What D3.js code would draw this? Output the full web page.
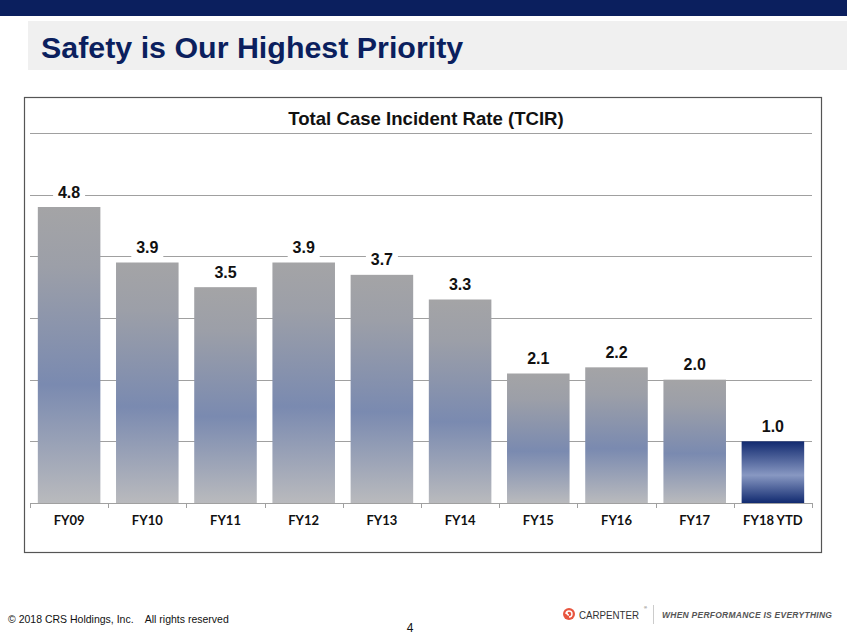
<!DOCTYPE html>
<html>
<head>
<meta charset="utf-8">
<script src="https://cdn.jsdelivr.net/npm/d3@7"></script>
<style>
  html, body { margin: 0; padding: 0; background: #fff; }
  svg { display: block; }
</style>
</head>
<body>
<svg id="chart" width="847" height="635"></svg>
<script>
// ---- data ----
const categories = ["FY09", "FY10", "FY11", "FY12", "FY13", "FY14", "FY15", "FY16", "FY17", "FY18 YTD"];
const values = [4.8, 3.9, 3.5, 3.9, 3.7, 3.3, 2.1, 2.2, 2.0, 1.0];
const valueLabels = ["4.8", "3.9", "3.5", "3.9", "3.7", "3.3", "2.1", "2.2", "2.0", "1.0"];
const gridTicks = [1, 2, 3, 4, 5, 6];
const highlight = "FY18 YTD";
const pageTitle = "Safety is Our Highest Priority";
const chartTitle = "Total Case Incident Rate (TCIR)";
const footerText = "© 2018 CRS Holdings, Inc.    All rights reserved";
const pageNumber = "4";

const svg = d3.select("#chart");
const navy = "#0b1f5e";

// gradients
const defs = svg.append("defs");
const g1 = defs.append("linearGradient").attr("id", "grayBlue").attr("x1", 0).attr("y1", 0).attr("x2", 0).attr("y2", 1);
[[0, "#a4a4a6"], [0.2, "#9c9fa8"], [0.6, "#7a8ab0"], [1, "#b9babd"]].forEach(([o, c]) =>
  g1.append("stop").attr("offset", o).attr("stop-color", c));
const g2 = defs.append("linearGradient").attr("id", "navyBar").attr("x1", 0).attr("y1", 0).attr("x2", 0).attr("y2", 1);
[[0, "#112a70"], [0.55, "#8898c2"], [1, "#112a70"]].forEach(([o, c]) =>
  g2.append("stop").attr("offset", o).attr("stop-color", c));

// header bar
svg.append("rect").attr("x", 0).attr("y", 0).attr("width", 847).attr("height", 16).attr("fill", navy);
// title band
svg.append("rect").attr("x", 28).attr("y", 21).attr("width", 819).attr("height", 49).attr("fill", "#f0f0f0");
svg.append("text").attr("x", 41).attr("y", 58)
  .attr("font-family", "Liberation Sans, Arial, sans-serif").attr("font-weight", "bold")
  .attr("font-size", 30.4).attr("fill", navy).text(pageTitle);

// chart box
svg.append("rect").attr("x", 24.5).attr("y", 97.5).attr("width", 797).attr("height", 455)
  .attr("fill", "#fff").attr("stroke", "#555").attr("stroke-width", 1.2);

svg.append("text").attr("x", 426).attr("y", 125).attr("text-anchor", "middle")
  .attr("font-family", "Liberation Sans, Arial, sans-serif").attr("font-weight", "bold")
  .attr("font-size", 18.6).attr("fill", "#111").text(chartTitle);

// scales
const x = d3.scaleBand().domain(categories).range([30, 812]).paddingInner(0.2).paddingOuter(0.1);
const y = d3.scaleLinear().domain([0, 6]).range([503, 133]);

// gridlines
svg.append("g").selectAll("line").data(gridTicks).join("line")
  .attr("x1", 30).attr("x2", 812)
  .attr("y1", d => Math.round(y(d)) + 0.5).attr("y2", d => Math.round(y(d)) + 0.5)
  .attr("stroke", "#a0a0a0").attr("stroke-width", 1.2);

// bars
svg.append("g").selectAll("rect").data(categories).join("rect")
  .attr("x", d => x(d)).attr("width", x.bandwidth())
  .attr("y", (d, i) => y(values[i])).attr("height", (d, i) => y(0) - y(values[i]))
  .attr("fill", d => d === highlight ? "url(#navyBar)" : "url(#grayBlue)");

// x axis
const xAxis = d3.axisBottom(x).tickSize(0).tickPadding(0);
const ax = svg.append("g").attr("transform", "translate(0,503)").call(xAxis);
ax.select(".domain").remove();
ax.append("line").attr("x1", 30).attr("x2", 812).attr("y1", 0.5).attr("y2", 0.5).attr("stroke", "#a0a0a0").attr("stroke-width", 1.2);
const bounds = categories.map(c => x(c) - x.step() * x.paddingInner() / 2).concat([812]);
ax.selectAll(".bnd").data(bounds).join("line").attr("class", "bnd")
  .attr("x1", d => Math.round(d) + 0.5).attr("x2", d => Math.round(d) + 0.5)
  .attr("y1", 0).attr("y2", 5).attr("stroke", "#a0a0a0");
ax.selectAll(".tick text")
  .attr("y", 22).attr("dy", 0)
  .attr("font-family", "Lato, 'Open Sans', sans-serif").attr("font-weight", "bold")
  .attr("font-size", 13).attr("fill", "#111");

// value labels with white background
const lbl = svg.append("g").selectAll("g").data(categories).join("g")
  .attr("transform", (d, i) => `translate(${x(d) + x.bandwidth() / 2},${y(values[i]) - 9.5})`);
lbl.append("rect").attr("x", -16).attr("y", -17).attr("width", 32).attr("height", 23).attr("fill", "#fff");
lbl.append("text").attr("text-anchor", "middle")
  .attr("font-family", "Liberation Sans, Arial, sans-serif").attr("font-weight", "bold")
  .attr("font-size", 16).attr("fill", "#111").text((d, i) => valueLabels[i]);

// footer
svg.append("text").attr("x", 8).attr("y", 623)
  .attr("font-family", "Liberation Sans, Arial, sans-serif").attr("font-size", 10.5)
  .attr("fill", "#111").attr("xml:space", "preserve").style("white-space", "pre").text(footerText);
svg.append("text").attr("x", 410).attr("y", 632).attr("text-anchor", "middle")
  .attr("font-family", "Liberation Sans, Arial, sans-serif").attr("font-size", 12)
  .attr("fill", "#111").text(pageNumber);

// logo
const logo = svg.append("g");
logo.append("circle").attr("cx", 569).attr("cy", 614).attr("r", 6).attr("fill", "#e8553f");
logo.append("path").attr("d", "M566,614 a3,3 0 1,1 3,3 M569,611 a2,2 0 0,0 0,4")
  .attr("fill", "none").attr("stroke", "#fff").attr("stroke-width", 1.4);
logo.append("text").attr("x", 579).attr("y", 618.5)
  .attr("font-family", "Liberation Sans, Arial, sans-serif").attr("font-size", 11)
  .attr("textLength", 60).attr("lengthAdjust", "spacingAndGlyphs")
  .attr("fill", "#333").text("CARPENTER");
logo.append("text").attr("x", 644).attr("y", 609)
  .attr("font-family", "Liberation Sans, Arial, sans-serif").attr("font-size", 4)
  .attr("fill", "#333").text("®");
logo.append("line").attr("x1", 653.5).attr("x2", 653.5).attr("y1", 605).attr("y2", 624)
  .attr("stroke", "#ccc").attr("stroke-width", 1);
logo.append("text").attr("x", 662).attr("y", 618)
  .attr("font-family", "Liberation Sans, Arial, sans-serif").attr("font-size", 8.5)
  .attr("font-weight", "bold").attr("font-style", "italic").attr("letter-spacing", 1.1)
  .attr("fill", "#555").attr("textLength", 171).text("WHEN PERFORMANCE IS EVERYTHING");
</script>
</body>
</html>
